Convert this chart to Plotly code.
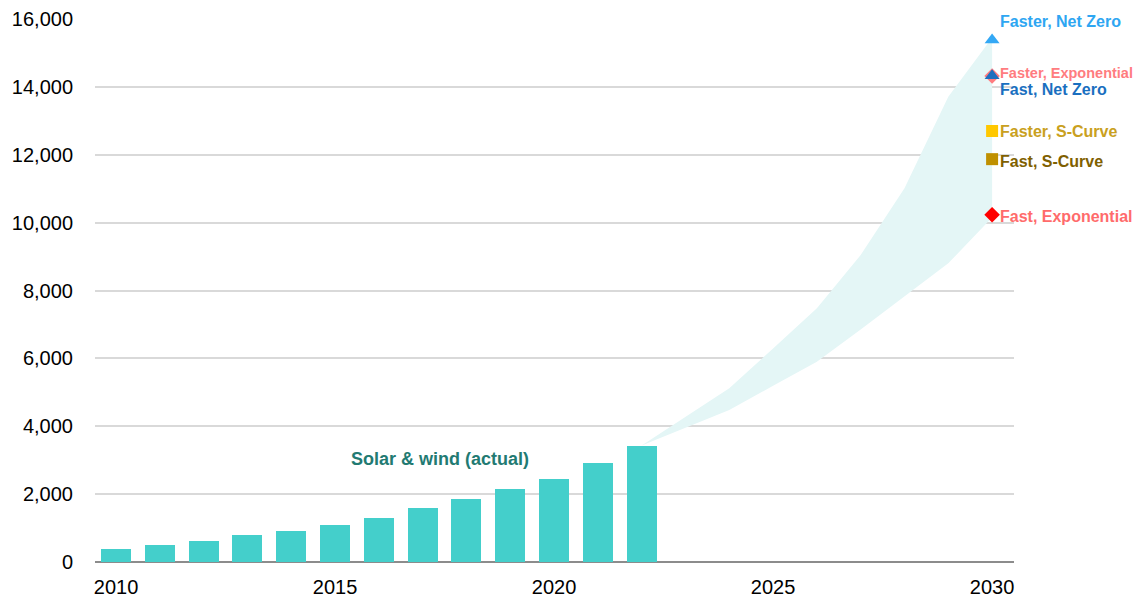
import plotly.graph_objects as go

# Actual solar & wind (bars)
years = list(range(2010, 2023))
actual = [375, 500, 628, 795, 922, 1090, 1306, 1600, 1856, 2150, 2445, 2917, 3430]

# Projection band
band_years = list(range(2022, 2031))
band_upper = [3430, 4280, 5117, 6290, 7474, 9045, 11010, 13710, 15450]
band_lower = [3430, 3960, 4478, 5190, 5902, 6850, 7817, 8800, 10150]

# 2030 scenarios
scen_names = ["Faster, Net Zero", "Faster, Exponential", "Fast, Net Zero",
              "Faster, S-Curve", "Fast, S-Curve", "Fast, Exponential"]
scen_values = [15380, 14320, 14330, 12700, 11870, 10230]
scen_symbols = ["triangle-up", "diamond", "triangle-up", "square", "square", "diamond"]
scen_marker_colors = ["#33A8F5", "#FF7C80", "#1F6FBF", "#FFC800", "#BF9000", "#FF0000"]
scen_text_colors = ["#2EA6F2", "#FF7C80", "#1A6FC0", "#C9A020", "#7F6000", "#FF6B6B"]
scen_text_sizes = [16, 14.5, 16, 16, 16, 16]
scen_label_shift = [19, 3, -14, -1, -2, -2]

FONT = "Liberation Sans, Arial, sans-serif"

fig = go.Figure()

fig.add_trace(go.Scatter(x=band_years, y=band_lower, mode="lines",
                         line=dict(width=0, color="#E4F6F6"), hoverinfo="skip",
                         showlegend=False))
fig.add_trace(go.Scatter(x=band_years, y=band_upper, mode="lines",
                         line=dict(width=0, color="#E4F6F6"), fill="tonexty",
                         fillcolor="#E4F6F6", hoverinfo="skip", showlegend=False))

fig.add_trace(go.Bar(x=years, y=actual, width=0.685, marker_color="#44CFCB",
                     marker_line_width=0, showlegend=False))

order = [0, 1, 3, 4, 5, 2]
for i in order:
    sz = 13 if scen_symbols[i] == "triangle-up" else 12
    fig.add_trace(go.Scatter(x=[2030], y=[scen_values[i]], mode="markers",
                             marker=dict(symbol=scen_symbols[i], size=sz,
                                         color=scen_marker_colors[i]),
                             cliponaxis=False, showlegend=False, name=scen_names[i]))

annotations = []
for i, name in enumerate(scen_names):
    annotations.append(dict(
        x=2030, y=scen_values[i], xref="x", yref="y", text=name,
        showarrow=False, xanchor="left", yanchor="middle", xshift=5,
        yshift=scen_label_shift[i],
        font=dict(family=FONT, size=scen_text_sizes[i], color=scen_text_colors[i],
                  weight="bold"),
        bgcolor="white" if i == 0 else "rgba(0,0,0,0)", borderpad=2))

annotations.append(dict(x=2017.4, y=3030, xref="x", yref="y",
                        text="Solar & wind (actual)", showarrow=False,
                        font=dict(family=FONT, size=18, color="#227A72", weight="bold")))

# page body has an 8px default margin, so the figure is sized/offset to compensate
fig.update_layout(
    width=1136, height=595,
    margin=dict(l=87, r=130, t=11, b=41),
    paper_bgcolor="white", plot_bgcolor="white",
    font=dict(family=FONT, size=20, color="#000000"),
    annotations=annotations,
    bargap=0,
)
fig.update_xaxes(range=[2009.52, 2030.5], tickvals=[2010, 2015, 2020, 2025, 2030],
                 showgrid=False, zeroline=False, showline=False, ticks="",
                 automargin=False,
                 ticklabelstandoff=11, tickfont=dict(size=20, color="#000000"))
fig.update_yaxes(range=[0, 16000], dtick=2000, tickformat=",", showgrid=True,
                 gridcolor="#D9D9D9", gridwidth=1.5, zeroline=True,
                 zerolinecolor="#8C8C8C", zerolinewidth=1.7, showline=False,
                 automargin=False,
                 ticks="", ticklabelstandoff=21, tickfont=dict(size=20, color="#000000"))

fig.write_html("out.html")
